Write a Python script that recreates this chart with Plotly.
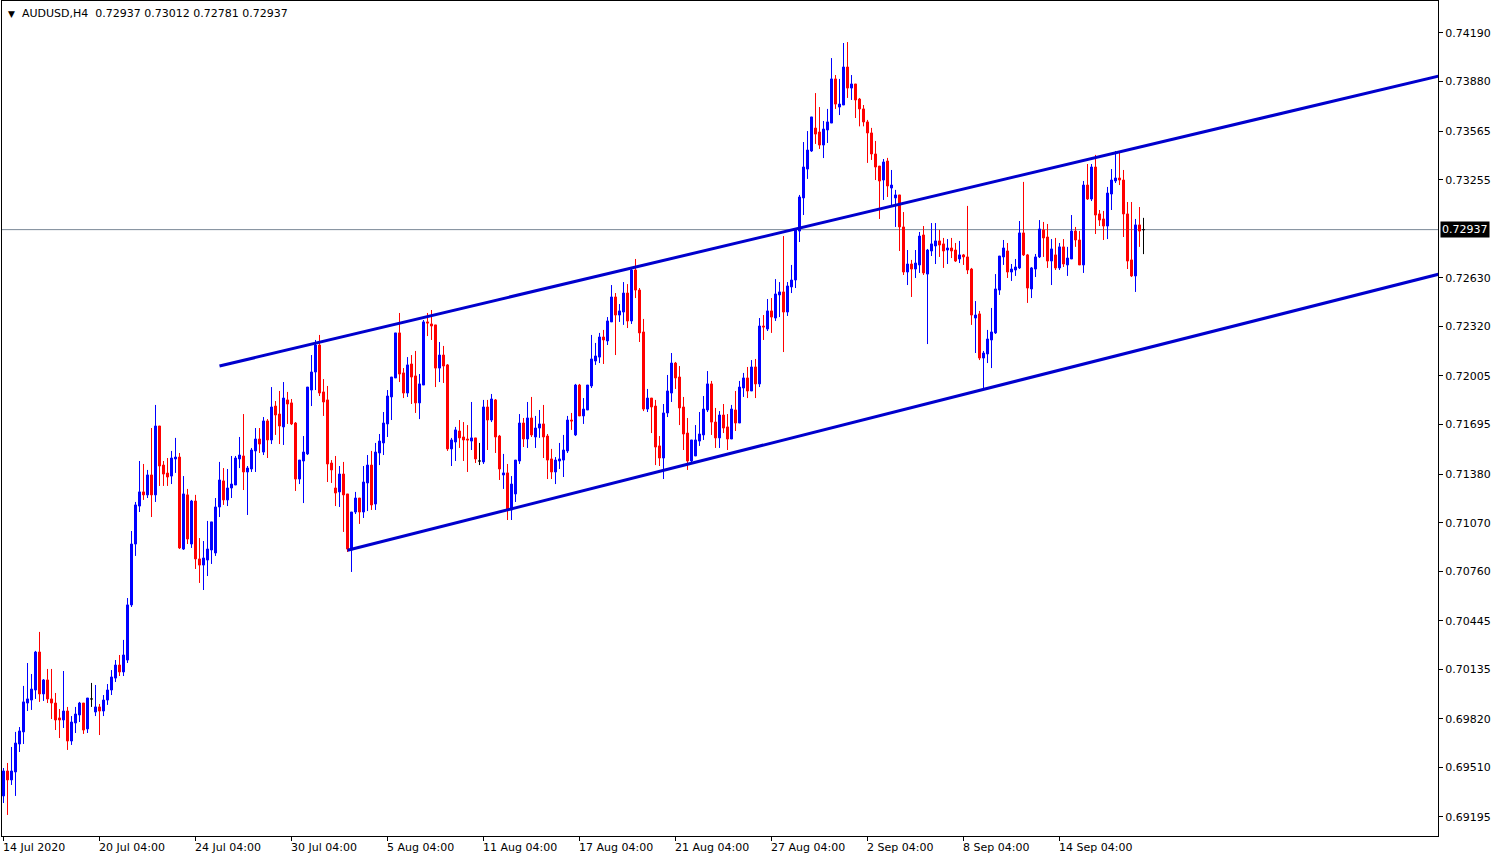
import numpy as np
import plotly.graph_objects as go

# ---- AUDUSD H4 candles (prices in points, 1 point = 0.00001) ----
open_pts = [69329,69488,69431,69482,69660,69737,69921,69940,70004,70246,69979,70068,69947,69921,69826,69813,69870,69679,69794,69845,
69921,69756,69947,69864,69896,69870,69940,70004,70080,70163,70119,70195,70546,70934,71176,71266,71247,71374,71247,71686,
71437,71386,71367,71476,71488,70902,71247,70934,71208,70839,70800,70832,70896,70877,71170,71336,71215,71291,71310,71476,
71495,71393,71412,71527,71603,71520,71718,71597,71813,71762,71680,71852,71833,71705,71348,71463,71508,71915,72030,72202,
71903,71852,71450,71291,71266,71380,71253,70896,71138,71227,71138,71323,71437,71189,71514,71578,71699,71871,71992,72279,
72024,71896,72081,72005,71833,71947,72349,72336,72330,72055,72138,72075,71540,71584,71654,71616,71603,71590,71610,71463,
71457,71807,71724,71852,71622,71374,71387,71151,71253,71463,71705,71603,71737,71616,71673,71699,71622,71476,71393,71463,
71469,71527,71724,71629,71947,71750,71788,71941,72100,72125,72253,72228,72349,72508,72393,72412,72533,72355,72680,72552,
72285,71794,71864,71813,71559,71482,71769,71896,72087,71998,71807,71641,71463,71495,71590,71629,71788,71954,71711,71610,
71756,71680,71603,71788,71705,71928,71992,71909,72062,71954,72323,72304,72419,72374,72521,72540,72412,72572,72616,72928,
73139,73323,73438,73584,73559,73476,73572,73616,73897,73718,73731,73973,73839,73865,73769,73706,73623,73553,73419,73342,
73253,73374,73202,73139,73158,72954,72667,72718,72686,72712,72903,72654,72801,72833,72865,72846,72807,72820,72807,72750,
72776,72763,72686,72374,72400,72119,72145,72234,72279,72552,72763,72801,72667,72680,72693,72916,72776,72559,72686,72763,
72935,72890,72737,72776,72693,72827,72712,72750,72928,72871,72712,73221,73132,73336,73037,73005,72960,73164,73247,73266,
73253,73037,72744,72642,72967,72937]

high_pts = [69507,69539,69641,69737,69768,70030,70176,70106,70253,70374,70074,70138,70138,69985,69883,70125,69896,69838,69896,69928,
69921,69953,70049,70036,69915,69972,70042,70131,70195,70227,70323,70590,71017,71202,71463,71444,71406,71673,71820,71686,
71463,71482,71527,71610,71514,71367,71285,71215,71247,70972,70953,71081,71075,71227,71457,71418,71412,71495,71495,71616,
71762,71431,71546,71673,71673,71743,71730,71934,71845,71909,71966,71903,71858,71711,71469,71622,71934,72138,72234,72266,
71985,71941,71469,71495,71431,71457,71253,71138,71266,71227,71431,71501,71527,71578,71635,71775,71915,71998,72279,72406,
72055,72125,72138,72164,72017,72361,72406,72425,72330,72221,72196,72081,71610,71680,71724,71711,71692,71839,71610,71578,
71852,71852,71890,71858,71629,71508,71444,71367,71469,71762,71737,71839,71871,71750,71788,71820,71635,71540,71488,71578,
71629,71750,71769,71954,71954,71864,71947,72266,72215,72279,72298,72380,72584,72533,72463,72603,72590,72699,72750,72565,
72368,71922,71864,71852,71622,71826,72011,72151,72094,72068,71871,71737,71597,71692,71775,71877,72036,71973,71801,71781,
71826,71762,71820,71909,71973,72024,72062,72106,72113,72374,72393,72495,72501,72622,72603,72896,72603,72712,72941,73158,
73495,73565,73655,73807,73718,73629,73706,74030,73922,73897,74126,74132,73922,73865,73776,73731,73636,73585,73502,73342,
73387,73394,73317,73190,73158,73049,72807,72744,72807,72922,72960,72814,72979,72979,72935,72884,72877,72884,72852,72865,
72782,73088,72693,72482,72419,72164,72298,72438,72654,72769,72871,72852,72718,72750,72992,73241,72782,72699,72782,72998,
72986,72973,72877,72884,72852,72877,72827,73030,72954,72928,73247,73355,73355,73413,73062,73056,73209,73323,73438,73432,
73317,73113,73113,73005,73081,73012]

low_pts = [69284,69208,69399,69329,69609,69660,69870,69877,69947,69928,69934,69921,69819,69749,69698,69762,69622,69654,69730,69800,
69724,69730,69896,69838,69717,69838,69909,69972,70055,70093,70093,70176,70533,70858,71138,71215,71227,71106,71202,71304,
71304,71304,71316,71387,70902,70896,70934,70909,70775,70686,70641,70730,70807,70858,71106,71183,71176,71227,71310,71418,
71278,71119,71393,71393,71514,71501,71482,71571,71629,71571,71565,71699,71692,71272,71316,71195,71501,71813,71915,71877,
71750,71329,71323,71176,71170,71011,70883,70756,71125,71062,71100,71144,71151,71151,71437,71501,71616,71724,71992,71966,
71864,71871,71826,71769,71730,71947,72259,72234,71934,71966,71960,71527,71431,71463,71546,71463,71393,71533,71450,71437,
71444,71533,71711,71514,71342,71285,71087,71087,71202,71444,71552,71546,71616,71546,71610,71482,71348,71348,71316,71412,
71361,71514,71661,71622,71750,71699,71788,71928,72075,72087,72081,72202,72349,72138,72349,72330,72310,72336,72501,72221,
71781,71775,71641,71437,71431,71348,71743,71839,71922,71692,71533,71406,71444,71495,71559,71597,71775,71629,71546,71546,
71641,71533,71603,71654,71705,71871,71864,71909,71864,71934,72234,72291,72279,72355,72380,72157,72387,72533,72565,72858,
73030,73260,73432,73483,73451,73393,73489,73616,73706,73667,73731,73776,73763,73648,73595,73595,73362,73381,73253,73005,
73126,73145,73081,72954,72801,72648,72584,72508,72629,72661,72648,72208,72769,72718,72763,72693,72718,72756,72731,72724,
72712,72654,72330,72151,72106,71928,72087,72055,72272,72521,72712,72629,72610,72642,72686,72769,72470,72501,72635,72756,
72763,72693,72584,72680,72680,72699,72642,72750,72827,72712,72661,73126,73119,72909,72960,72871,72877,73062,73234,73221,
72890,72686,72635,72540,72827,72781]

close_pts = [69488,69431,69488,69666,69743,69928,69947,70010,70246,69979,70068,69947,69921,69813,69813,69870,69679,69800,69851,69921,
69749,69953,69947,69896,69870,69940,70004,70087,70163,70119,70227,70546,70934,71183,71266,71247,71374,71247,71686,71431,
71380,71361,71482,71488,70909,71253,70966,71208,70839,70800,70845,70902,71075,71170,71342,71215,71291,71316,71482,71501,
71393,71418,71533,71603,71571,71718,71597,71807,71756,71686,71864,71826,71699,71348,71469,71520,71934,72030,72202,71896,
71839,71444,71406,71259,71380,71247,70902,71138,71227,71138,71329,71437,71183,71520,71590,71705,71877,71998,72279,72017,
71896,72075,71998,71833,71954,72349,72342,72323,72055,72138,72068,71540,71597,71661,71610,71597,71597,71610,71476,71463,
71807,71724,71858,71616,71412,71387,71151,71316,71469,71705,71603,71737,71629,71673,71699,71616,71469,71393,71469,71476,
71533,71724,71718,71947,71750,71794,71947,72113,72132,72253,72234,72355,72508,72393,72419,72533,72355,72680,72552,72279,
71794,71864,71807,71552,71482,71769,71909,72087,71992,71801,71635,71463,71597,71597,71635,71794,71954,71711,71610,71756,
71673,71603,71794,71705,71934,71992,71909,72062,71954,72323,72317,72419,72380,72527,72540,72412,72578,72616,72941,73145,
73336,73444,73655,73546,73476,73578,73623,73897,73737,73737,73973,73839,73865,73763,73706,73623,73553,73419,73336,73247,
73368,73215,73221,73158,72954,72667,72718,72686,72724,72896,72661,72807,72846,72865,72839,72801,72820,72801,72737,72776,
72763,72680,72393,72393,72119,72151,72240,72285,72559,72769,72820,72667,72686,72699,72916,72776,72565,72693,72763,72941,
72884,72737,72814,72693,72827,72718,72756,72928,72871,72712,73221,73132,73336,73030,72998,72960,73170,73253,73266,73253,
73037,72737,72642,72967,72928,72937]

# time-axis labels (every 24 H4 bars)
xlabel_bars = [0, 24, 48, 72, 96, 120, 144, 168, 192, 216, 240, 264]
xlabel_text = ["14 Jul 2020", "20 Jul 04:00", "24 Jul 04:00", "30 Jul 04:00", "5 Aug 04:00", "11 Aug 04:00",
               "17 Aug 04:00", "21 Aug 04:00", "27 Aug 04:00", "2 Sep 04:00", "8 Sep 04:00", "14 Sep 04:00"]

# price-axis labels
ytick_vals = [0.74190, 0.73880, 0.73565, 0.73255, 0.72630, 0.72320, 0.72005, 0.71695,
              0.71380, 0.71070, 0.70760, 0.70445, 0.70135, 0.69820, 0.69510, 0.69195]

# channel trendlines: two anchor points each (bar index, price); drawn as rays to the right
upper_channel = [(54, 0.72068), (279, 0.73432)]
lower_channel = [(86, 0.70894), (240, 0.71887)]

symbol = "AUDUSD,H4"

# ----------------------------------------------------------------
o = np.array(open_pts) / 1e5
h = np.array(high_pts) / 1e5
l = np.array(low_pts) / 1e5
c = np.array(close_pts) / 1e5
idx = np.arange(len(o))
doji = o == c
main = ~doji

BLUE = "#0000FF"
RED = "#FF0000"
LINE_BLUE = "#0000CD"
FONT = "DejaVu Sans"

X_MIN, X_MAX = -0.375, 358.625
Y_MIN, Y_MAX = 0.690738, 0.743936

fig = go.Figure()

fig.add_trace(go.Candlestick(
    x=idx[main], open=o[main], high=h[main], low=l[main], close=c[main],
    increasing=dict(line=dict(color=BLUE, width=1), fillcolor=BLUE),
    decreasing=dict(line=dict(color=RED, width=1), fillcolor=RED),
    whiskerwidth=0, showlegend=False, hoverinfo="skip"))

fig.add_trace(go.Candlestick(
    x=idx[doji], open=o[doji], high=h[doji], low=l[doji], close=c[doji],
    increasing=dict(line=dict(color="black", width=1), fillcolor="black"),
    decreasing=dict(line=dict(color="black", width=1), fillcolor="black"),
    whiskerwidth=0, showlegend=False, hoverinfo="skip"))

for (x0, y0), (x1, y1) in (upper_channel, lower_channel):
    slope = (y1 - y0) / (x1 - x0)
    xe = X_MAX + 1
    fig.add_trace(go.Scatter(x=[x0, xe], y=[y0, y0 + slope * (xe - x0)], mode="lines",
                             line=dict(color=LINE_BLUE, width=3), showlegend=False, hoverinfo="skip"))

last = c[-1]
fig.add_shape(type="line", xref="paper", x0=0, x1=1, yref="y", y0=last, y1=last,
              line=dict(color="#7A8796", width=1), layer="below")

# current price label
fig.add_annotation(xref="paper", x=1, xanchor="left", xshift=2, yref="y", y=last, yanchor="middle",
                   text=f"{last:.5f}", showarrow=False, bgcolor="black",
                   font=dict(family=FONT, size=11, color="white"), borderpad=1)

# header
fig.add_annotation(xref="paper", x=0, xanchor="left", xshift=4, yref="paper", y=1, yanchor="top", yshift=-4,
                   text=f"<span style='font-size:9px'>▼</span>  {symbol}  {o[-1]:.5f} {h[-1]:.5f} {l[-1]:.5f} {c[-1]:.5f}",
                   showarrow=False, font=dict(family=FONT, size=11, color="black"))

# time labels
for b, t in zip(xlabel_bars, xlabel_text):
    fig.add_annotation(xref="x", x=b, xanchor="left", xshift=-3, yref="paper", y=0, yanchor="top", yshift=-3,
                       text=t, showarrow=False, font=dict(family=FONT, size=11, color="black"))

fig.update_layout(
    width=1502, height=860,
    margin=dict(l=2, r=64, t=1, b=24),
    paper_bgcolor="white", plot_bgcolor="white",
    font=dict(family=FONT, size=11, color="black"),
    boxgap=0.5, boxgroupgap=0.0, boxmode="overlay",
    showlegend=False,
)
fig.update_xaxes(range=[X_MIN, X_MAX], rangeslider_visible=False, showgrid=False, zeroline=False,
                 showline=True, linecolor="black", linewidth=1, mirror=True,
                 tickvals=xlabel_bars, ticks="outside", ticklen=4, tickcolor="black", showticklabels=False)
fig.update_yaxes(range=[Y_MIN, Y_MAX], side="right", showgrid=False, zeroline=False,
                 showline=True, linecolor="black", linewidth=1, mirror=True,
                 tickvals=ytick_vals, ticktext=[f"{v:.5f}" for v in ytick_vals],
                 ticks="outside", ticklen=4, tickcolor="black", tickfont=dict(family=FONT, size=11))

fig.write_html("out.html")
